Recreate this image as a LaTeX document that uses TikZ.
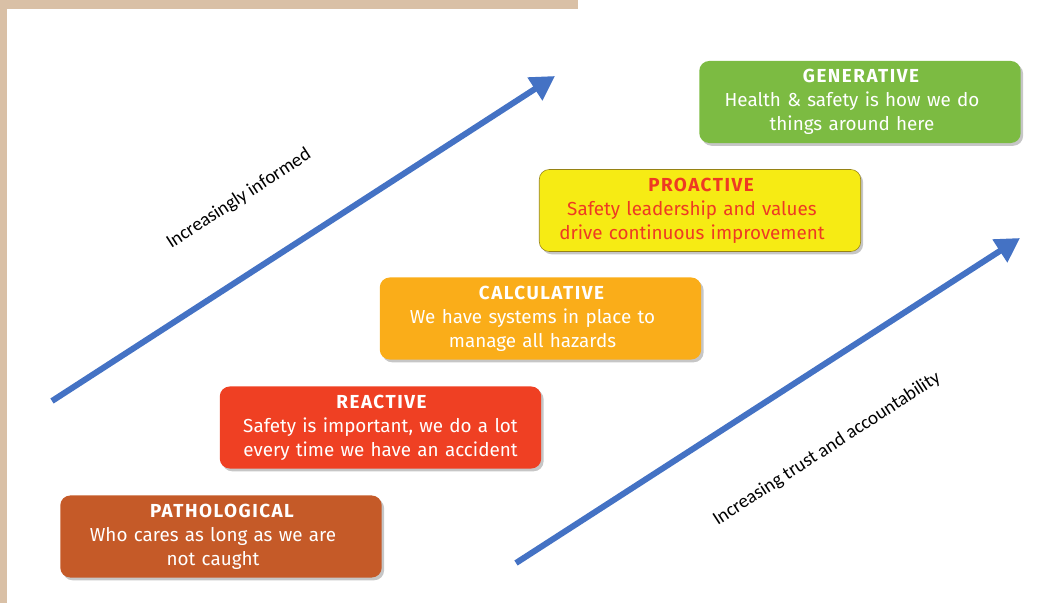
\documentclass[tikz,border=0pt]{standalone}
\usepackage{fontspec}
\setmainfont{Fira Sans}
\newfontfamily\labelfont{Carlito}
\usetikzlibrary{arrows.meta,shadows}

\definecolor{tan}{RGB}{217,192,166}
\definecolor{trendblue}{RGB}{68,114,196}
\definecolor{pathocol}{RGB}{197,90,40}
\definecolor{reactcol}{RGB}{239,64,35}
\definecolor{calccol}{RGB}{250,173,25}
\definecolor{proactcol}{RGB}{246,235,20}
\definecolor{proacttext}{RGB}{238,58,35}
\definecolor{proactline}{RGB}{150,130,20}
\definecolor{genercol}{RGB}{124,187,66}

\tikzset{
    stage/.style={rounded corners=0.25cm, minimum width=8cm, minimum height=2.05cm,
        text width=7.8cm, align=center, text=white,
        font=\fontsize{13.4}{17}\selectfont,
        drop shadow={shadow xshift=0.06cm, shadow yshift=-0.07cm, opacity=0.45}},
    trend/.style={draw=trendblue, line width=0.15cm,
        -{Triangle[length=0.6cm, width=0.65cm]}},
    trendlabel/.style={font=\labelfont\fontsize{13.6}{16}\selectfont, rotate=33}
}
\newcommand{\stagename}[1]{\mbox{\bfseries\addfontfeature{LetterSpace=8}#1\kern-0.05cm}}
\newcommand{\stageline}[1]{\mbox{#1\kern0.4cm}}

\begin{document}
\begin{tikzpicture}[x=0.025cm, y=-0.025cm]
    \useasboundingbox (0,0) rectangle (1061,603);
    % frame
    \fill[tan] (0,0) rectangle (578,9);
    \fill[tan] (0,0) rectangle (7,603);

    % stages
    \node[stage, fill=pathocol] (patho) at (221,536.5)
        {\stagename{PATHOLOGICAL}\\\stageline{Who cares as long as we are}\\\stageline{not caught}};
    \node[stage, fill=reactcol] (react) at (380.5,427.5)
        {\stagename{REACTIVE}\\Safety is important, we do a lot\\every time we have an accident};
    \node[stage, fill=calccol] (calc) at (540.5,318.5)
        {\stagename{CALCULATIVE}\\\stageline{We have systems in place to}\\\stageline{manage all hazards}};
    \node[stage, fill=proactcol, draw=proactline, text=proacttext] (proact) at (700,210.5)
        {\stagename{PROACTIVE}\\\stageline{Safety leadership and values}\\\stageline{drive continuous improvement}};
    \node[stage, fill=genercol] (gener) at (860,102)
        {\stagename{GENERATIVE}\\\stageline{Health \& safety is how we do}\\\stageline{things around here}};

    % trends
    \coordinate (infstart) at (52,401);
    \coordinate (infend) at (555,76);
    \coordinate (truststart) at (516,563);
    \coordinate (trustend) at (1020,238);
    \draw[trend] (infstart) -- (infend);
    \draw[trend] (truststart) -- (trustend);
    \node[trendlabel] (inflabel) at (239,199) {Increasingly informed};
    \node[trendlabel] (trustlabel) at (827,449) {Increasing trust and accountability};
\end{tikzpicture}
\end{document}
